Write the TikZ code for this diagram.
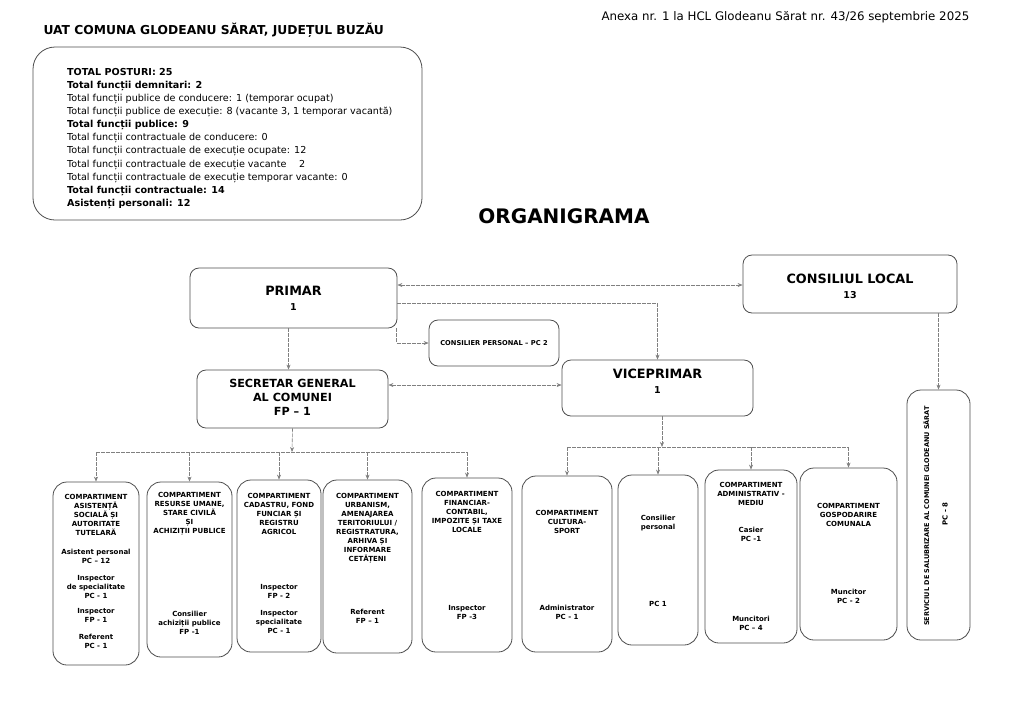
\documentclass[tikz,border=0pt]{standalone}
\usepackage{fontspec}
\setmainfont{DejaVu Sans}
\usetikzlibrary{arrows.meta}

\newcommand{\tb}[1]{{\bfseries\fontsize{9.6}{13.1}\selectfont #1}}
\newcommand{\nr}[1]{{\fontsize{9.5}{12}\selectfont #1}}

\tikzset{
  box/.style={draw=black!70, line width=0.8pt, rounded corners=9pt},
  dept/.style={draw=black!70, line width=0.8pt, rounded corners=14pt},
  conn/.style={draw=black!50, line width=0.6pt, dash pattern=on 4pt off 1pt},
  arr/.style={conn, -{Stealth[length=5pt,width=4pt]}},
  biarr/.style={conn, {Stealth[length=5pt,width=4pt]}-{Stealth[length=5pt,width=4pt]}},
  head/.style={font=\bfseries\fontsize{12.8}{15}\selectfont, align=center, inner sep=0pt},
  depttxt/.style={font=\bfseries\fontsize{7}{9}\selectfont, align=center, inner sep=0pt},
}

\begin{document}
\begin{tikzpicture}[x=1pt, y=-1pt]
\useasboundingbox (0,0) rectangle (1024,724);

% header
\node[anchor=west, font=\bfseries\fontsize{12.3}{14}\selectfont] (uat) at (40,30) {UAT COMUNA GLODEANU SĂRAT, JUDEȚUL BUZĂU};
\node[anchor=west, font=\fontsize{11.8}{14}\selectfont] (anexa) at (598,17) {Anexa nr. 1 la HCL Glodeanu Sărat nr. 43/26 septembrie 2025};

% totals
\node[box, rounded corners=22pt, minimum width=389pt, minimum height=173pt] (totals) at (227.5,133.5) {};
\node[anchor=north west, align=left, inner sep=0pt, font=\fontsize{9.6}{13.1}\selectfont] (totalstxt) at (67,68) {%
\tb{TOTAL POSTURI: 25}\\
\tb{Total funcții demnitari: 2}\\
Total funcții publice de conducere: 1 (temporar ocupat)\\
Total funcții publice de execuție: 8 (vacante 3, 1 temporar vacantă)\\
\tb{Total funcții publice: 9}\\
Total funcții contractuale de conducere: 0\\
Total funcții contractuale de execuție ocupate: 12\\
Total funcții contractuale de execuție vacante\quad\ 2\\
Total funcții contractuale de execuție temporar vacante: 0\\
\tb{Total funcții contractuale: 14}\\
\tb{Asistenți personali: 12}};

\node[font=\bfseries\fontsize{20}{24}\selectfont] (title) at (564,216) {ORGANIGRAMA};

% top level
\node[box, minimum width=207pt, minimum height=60pt] (primar) at (293.5,298) {};
\node[head] (primartxt) at (293.5,298) {PRIMAR\\\nr{1}};
\node[box, minimum width=214pt, minimum height=58pt] (consiliu) at (850,284) {};
\node[head] (consiliutxt) at (850,286) {CONSILIUL LOCAL\\\nr{13}};
\node[box, minimum width=130pt, minimum height=46pt] (cpers) at (494,343) {};
\node[depttxt, font=\bfseries\fontsize{6.7}{8}\selectfont] (cperstxt) at (494,343) {CONSILIER PERSONAL – PC 2};
\node[box, minimum width=191pt, minimum height=58pt] (secretar) at (292.5,399) {};
\node[head, font=\bfseries\fontsize{11.2}{14}\selectfont] (secretartxt) at (292.5,397) {SECRETAR GENERAL\\AL COMUNEI\\FP – 1};
\node[box, minimum width=191pt, minimum height=56pt] (vice) at (657.5,388) {};
\node[head] (vicetxt) at (657.5,381) {VICEPRIMAR\\\nr{1}};

% compartimente
\node[dept, minimum width=86pt, minimum height=183pt] (asist) at (96,573.5) {};
\node[depttxt] (asisth) at (96,514.5) {COMPARTIMENT\\ASISTENȚĂ\\SOCIALĂ ȘI\\AUTORITATE\\TUTELARĂ};
\node[depttxt] (asista) at (96,556) {Asistent personal\\PC – 12};
\node[depttxt] (asistb) at (96,587) {Inspector\\de specialitate\\PC - 1};
\node[depttxt] (asistc) at (96,615.5) {Inspector\\FP - 1};
\node[depttxt] (asistd) at (96,641.5) {Referent\\PC - 1};

\node[dept, minimum width=85pt, minimum height=175pt] (resurse) at (189.5,569.5) {};
\node[depttxt] (resurseh) at (189.5,514) {COMPARTIMENT\\RESURSE UMANE,\\STARE CIVILĂ\\ȘI\\ACHIZIȚII PUBLICE};
\node[depttxt] (resursea) at (189.5,623) {Consilier\\achiziții publice\\FP -1};

\node[dept, minimum width=84pt, minimum height=172pt] (cadastru) at (279,566) {};
\node[depttxt] (cadastruh) at (279,514) {COMPARTIMENT\\CADASTRU, FOND\\FUNCIAR ȘI\\REGISTRU\\AGRICOL};
\node[depttxt] (cadastrua) at (279,591.5) {Inspector\\FP - 2};
\node[depttxt] (cadastrub) at (279,622) {Inspector\\specialitate\\PC - 1};

\node[dept, minimum width=89pt, minimum height=173pt] (urban) at (367.5,566.5) {};
\node[depttxt] (urbanh) at (367.5,528.5) {COMPARTIMENT\\URBANISM,\\AMENAJAREA\\TERITORIULUI /\\REGISTRATURA,\\ARHIVA ȘI\\INFORMARE\\CETĂȚENI};
\node[depttxt] (urbana) at (367.5,616.5) {Referent\\FP – 1};

\node[dept, minimum width=90pt, minimum height=174pt] (fin) at (467,565) {};
\node[depttxt] (finh) at (467,512) {COMPARTIMENT\\FINANCIAR-\\CONTABIL,\\IMPOZITE ȘI TAXE\\LOCALE};
\node[depttxt] (fina) at (467,612.5) {Inspector\\FP -3};

\node[dept, minimum width=90pt, minimum height=176pt] (cult) at (567,564) {};
\node[depttxt] (culth) at (567,521.5) {COMPARTIMENT\\CULTURA-\\SPORT};
\node[depttxt] (culta) at (567,612) {Administrator\\PC - 1};

\node[dept, minimum width=80pt, minimum height=170pt] (consp) at (658,560) {};
\node[depttxt] (consph) at (658,523) {Consilier\\personal};
\node[depttxt] (conspa) at (658,604) {PC 1};

\node[dept, minimum width=92pt, minimum height=173pt] (admin) at (751,556.5) {};
\node[depttxt] (adminh) at (751,494) {COMPARTIMENT\\ADMINISTRATIV -\\MEDIU};
\node[depttxt] (admina) at (751,534.5) {Casier\\PC -1};
\node[depttxt] (adminb) at (751,623.5) {Muncitori\\PC – 4};

\node[dept, minimum width=97pt, minimum height=172pt] (gosp) at (848.5,554) {};
\node[depttxt] (gosph) at (848.5,515) {COMPARTIMENT\\GOSPODARIRE\\COMUNALA};
\node[depttxt] (gospa) at (848.5,596.5) {Muncitor\\PC - 2};

\node[dept, minimum width=63pt, minimum height=250pt] (serv) at (938.5,515) {};
\node[depttxt, font=\bfseries\fontsize{6.5}{9}\selectfont, rotate=90] (servh) at (926,516) {SERVICIUL DE SALUBRIZARE AL COMUNEI GLODEANU SĂRAT};
\node[depttxt, rotate=90] (serva) at (945,514) {PC - 8};

% connectors
\draw[biarr] ([yshift=13pt]primar.east) -- ([yshift=13pt]primar.east -| consiliu.west);
\draw[arr] ([yshift=-5pt]primar.east) -| (vice.north);
\draw[arr] ([xshift=-1pt]primar.south east) |- (cpers.west);
\draw[arr] ([xshift=-5pt]primar.south) -- ([xshift=-5pt]primar.south |- secretar.north);
\draw[biarr] ([yshift=14pt]secretar.east) -- ([yshift=14pt]secretar.east -| vice.west);
\draw[arr] (serv.north |- consiliu.south) -- (serv.north);

\coordinate (busS) at (292,452);
\draw[arr] (secretar.south) -- (busS);
\draw[conn] (asist.north |- busS) -- (fin.north |- busS);
\foreach \c in {asist,resurse,cadastru,urban,fin}
  \draw[arr] (\c.north |- busS) -- (\c.north);

\coordinate (busV) at (662,447);
\draw[arr] ([xshift=4.5pt]vice.south) -- (busV);
\draw[conn] (cult.north |- busV) -- (gosp.north |- busV);
\foreach \c in {cult,consp,admin,gosp}
  \draw[arr] (\c.north |- busV) -- (\c.north);
\end{tikzpicture}
\end{document}
